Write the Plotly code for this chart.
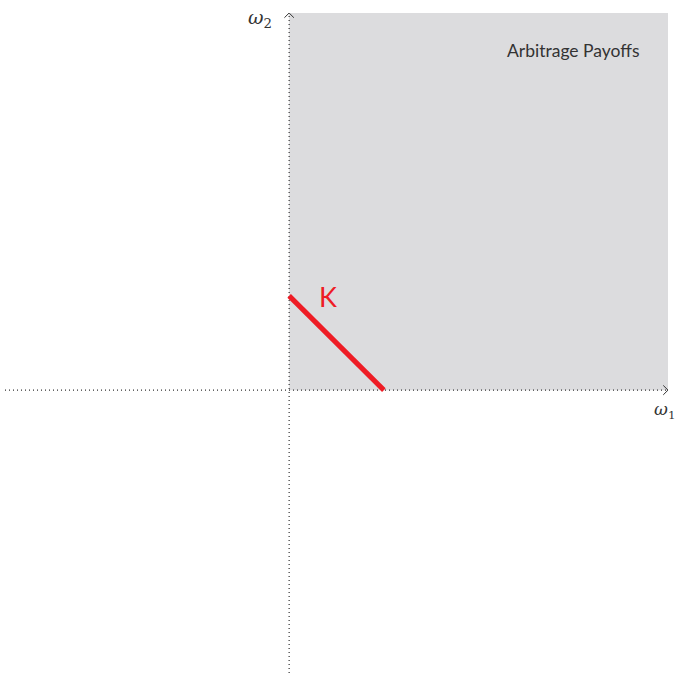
import plotly.graph_objects as go

# data
axis_min = -3
axis_max = 4
k_x = [0, 1]
k_y = [1, 0]
k_label = "K"
region_label = "Arbitrage Payoffs"
x_label = "<i>ω</i><sub>1</sub>"
y_label = "<i>ω</i><sub>2</sub>"

fig = go.Figure()

# arbitrage region
fig.add_shape(type="rect", x0=0, y0=0, x1=axis_max, y1=axis_max,
              fillcolor="#dcdcde", line_width=0, layer="below")

# dotted axes
fig.add_trace(go.Scatter(x=[axis_min, axis_max], y=[0, 0], mode="lines",
                         line=dict(color="#333", width=1.2, dash="1px,3px"),
                         hoverinfo="skip"))
fig.add_trace(go.Scatter(x=[0, 0], y=[axis_min, axis_max], mode="lines",
                         line=dict(color="#333", width=1.2, dash="1px,3px"),
                         hoverinfo="skip"))

# arrowheads (chevrons)
h = 0.05
fig.add_trace(go.Scatter(x=[axis_max - h, axis_max, axis_max - h], y=[h, 0, -h],
                         mode="lines", line=dict(color="#333", width=1), hoverinfo="skip"))
fig.add_trace(go.Scatter(x=[-h, 0, h], y=[axis_max - h, axis_max, axis_max - h],
                         mode="lines", line=dict(color="#333", width=1), hoverinfo="skip"))

# K line
fig.add_trace(go.Scatter(x=k_x, y=k_y, mode="lines",
                         line=dict(color="#ee1c25", width=5), hoverinfo="skip"))

fig.add_annotation(x=0.41, y=0.99, text=k_label, showarrow=False,
                   font=dict(family="Lato", size=27, color="#ee1c25"))
fig.add_annotation(x=3.0, y=3.6, text=region_label, showarrow=False,
                   font=dict(family="Lato", size=17.5, color="#333"))
fig.add_annotation(x=axis_max, y=0, text=x_label, showarrow=False,
                   xanchor="right", yanchor="top", yshift=-7, xshift=9,
                   font=dict(family="DejaVu Serif", size=17, color="#333"))
fig.add_annotation(x=0, y=axis_max, text=y_label, showarrow=False,
                   xanchor="right", yanchor="middle", xshift=-15, yshift=-5,
                   font=dict(family="DejaVu Serif", size=19, color="#333"))

fig.update_xaxes(range=[axis_min, axis_max], visible=False)
fig.update_yaxes(range=[axis_min, axis_max], visible=False)
fig.update_layout(width=678, height=677, showlegend=False,
                  margin=dict(l=5, r=10, t=13, b=4),
                  plot_bgcolor="white", paper_bgcolor="white")

fig.write_html("out.html", config={"displayModeBar": False},
               post_script="document.body.style.margin='0';")
